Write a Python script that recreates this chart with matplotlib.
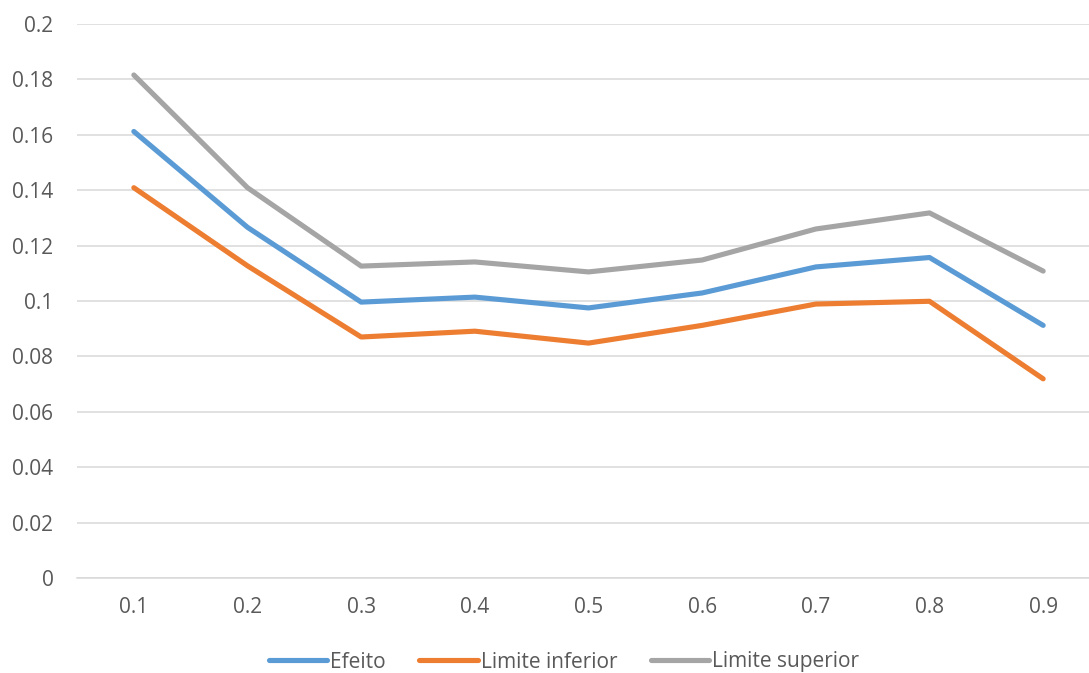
import matplotlib
matplotlib.use("Agg")
import matplotlib.pyplot as plt

categories = ["0.1", "0.2", "0.3", "0.4", "0.5", "0.6", "0.7", "0.8", "0.9"]
efeito = [0.1612, 0.1266, 0.0996, 0.1014, 0.0975, 0.1029, 0.1123, 0.1157, 0.0912]
limite_inferior = [0.1409, 0.1127, 0.0870, 0.0891, 0.0848, 0.0912, 0.0989, 0.0999, 0.0719]
limite_superior = [0.1816, 0.1409, 0.1126, 0.1141, 0.1105, 0.1148, 0.1260, 0.1318, 0.1108]
series_names = ["Efeito", "Limite inferior", "Limite superior"]
colors = ["#5B9BD5", "#ED7D31", "#A5A5A5"]
yticks = [0, 0.02, 0.04, 0.06, 0.08, 0.1, 0.12, 0.14, 0.16, 0.18, 0.2]
ytick_labels = ["0", "0.02", "0.04", "0.06", "0.08", "0.1", "0.12", "0.14", "0.16", "0.18", "0.2"]

plt.rcParams['font.family'] = ['Open Sans', 'DejaVu Sans']

W, H = 1089, 673
fig = plt.figure(figsize=(W / 100, H / 100), dpi=100)
left, right, top, bottom = 77, 1100, 24, 578
ax = fig.add_axes([left / W, 1 - bottom / H, (right - left) / W, (bottom - top) / H])

x = list(range(len(categories)))
for vals, name, c in zip([efeito, limite_inferior, limite_superior], series_names, colors):
    ax.plot(x, vals, color=c, lw=3.7, solid_capstyle='round', solid_joinstyle='round', label=name)

ax.set_xlim(-0.5, len(categories) - 0.5)
ax.set_ylim(0, 0.2)
ax.set_yticks(yticks)
ax.set_yticklabels(ytick_labels)
ax.set_xticks(x)
ax.set_xticklabels(categories)
ax.grid(axis='y', color='#D9D9D9', lw=1.1)
ax.set_axisbelow(True)
for s in ['left', 'right', 'top']:
    ax.spines[s].set_visible(False)
ax.spines['bottom'].set_color('#D9D9D9')
ax.spines['bottom'].set_linewidth(1.1)
ax.tick_params(axis='both', length=0, labelsize=15, colors='#595959')
ax.tick_params(axis='y', pad=17)
ax.tick_params(axis='x', pad=14)

leg = fig.legend(loc='center', bbox_to_anchor=(564 / W, 1 - 662 / H), ncol=3, frameon=False,
                 fontsize=15, handlelength=2.8, handletextpad=0.15, columnspacing=1.6,
                 labelcolor='#595959')

fig.savefig("out.png", dpi=100)
